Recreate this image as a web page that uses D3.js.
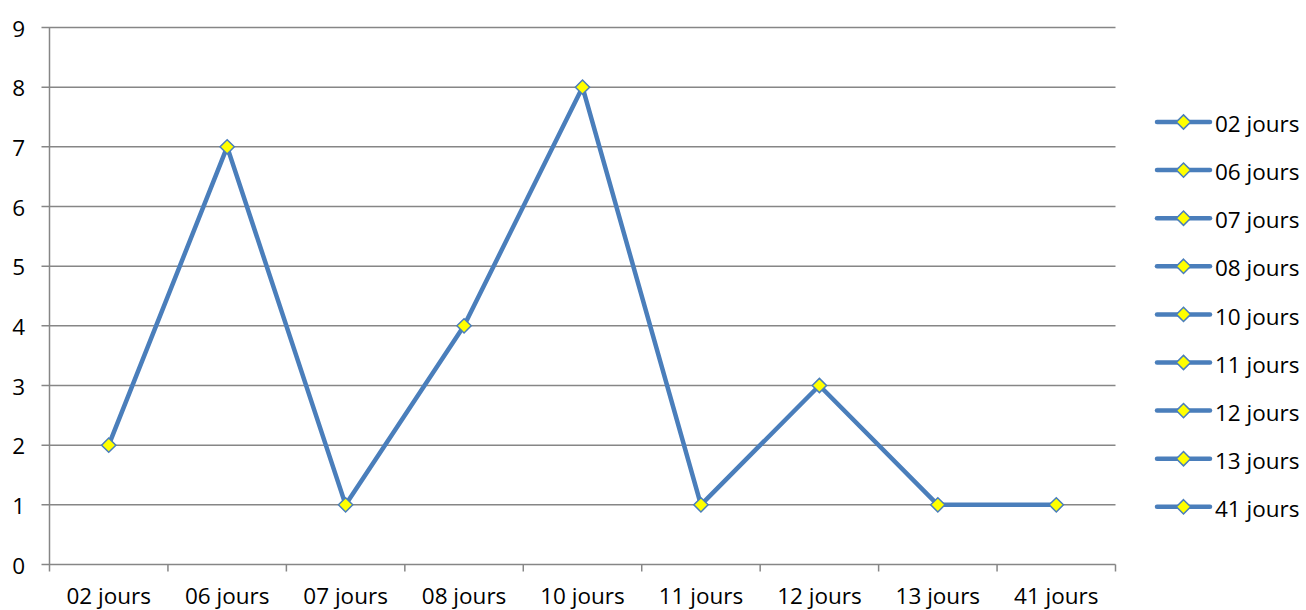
<!DOCTYPE html>
<html>
<head>
<meta charset="utf-8">
<script src="https://cdn.jsdelivr.net/npm/d3@7/dist/d3.min.js"></script>
<style>
  html, body { margin: 0; padding: 0; background: #fff; }
  svg { display: block; font-family: "Open Sans", "Noto Sans", sans-serif; }
</style>
</head>
<body>
<svg id="chart" width="1306" height="610"></svg>
<script>
// Number of stays by length (days)
const categories = ["02 jours", "06 jours", "07 jours", "08 jours", "10 jours", "11 jours", "12 jours", "13 jours", "41 jours"];
const values = [2, 7, 1, 4, 8, 1, 3, 1, 1];
const yTicks = [0, 1, 2, 3, 4, 5, 6, 7, 8, 9];

const lineColor = "#4A7EBB";
const gridColor = "#868686";
const fontSize = 22.5;

const svg = d3.select("#chart");
const plot = { left: 49.5, right: 1115.5, top: 27.5, bottom: 564.5 };

const x = d3.scaleBand().domain(categories).range([plot.left, plot.right]);
const y = d3.scaleLinear().domain([0, 9]).range([plot.bottom, plot.top]);

// Horizontal gridlines
svg.append("g")
  .selectAll("line")
  .data(yTicks)
  .join("line")
  .attr("x1", plot.left - 8)
  .attr("x2", plot.right)
  .attr("y1", d => y(d))
  .attr("y2", d => y(d))
  .attr("stroke", gridColor)
  .attr("stroke-width", 1.5);

// Vertical axis line
svg.append("line")
  .attr("x1", plot.left).attr("x2", plot.left)
  .attr("y1", plot.top).attr("y2", plot.bottom)
  .attr("stroke", gridColor).attr("stroke-width", 1.5);

// Y tick labels
svg.append("g")
  .selectAll("text")
  .data(yTicks)
  .join("text")
  .attr("x", 25)
  .attr("y", d => y(d) + 1)
  .attr("dy", "0.36em")
  .attr("text-anchor", "end")
  .attr("font-size", fontSize)
  .attr("fill", "#000")
  .text(d => d);

// X axis tick marks at band boundaries
const boundaries = categories.map(c => x(c)).concat([plot.right]);
svg.append("g")
  .selectAll("line")
  .data(boundaries)
  .join("line")
  .attr("x1", d => d).attr("x2", d => d)
  .attr("y1", plot.bottom).attr("y2", plot.bottom + 7)
  .attr("stroke", gridColor).attr("stroke-width", 1.5);

// X labels
svg.append("g")
  .selectAll("text")
  .data(categories)
  .join("text")
  .attr("x", d => x(d) + x.bandwidth() / 2)
  .attr("y", 603.5)
  .attr("text-anchor", "middle")
  .attr("font-size", fontSize)
  .attr("fill", "#000")
  .text(d => d);

// Series line
const cx = (d, i) => x(categories[i]) + x.bandwidth() / 2;
svg.append("path")
  .datum(values)
  .attr("fill", "none")
  .attr("stroke", lineColor)
  .attr("stroke-width", 4.5)
  .attr("stroke-linejoin", "round")
  .attr("d", d3.line().x(cx).y(d => y(d)));

// Diamond markers
const diamond = d3.symbol().type(d3.symbolDiamond2).size(130);
svg.append("g")
  .selectAll("path")
  .data(values)
  .join("path")
  .attr("transform", (d, i) => `translate(${cx(d, i)},${y(d)})`)
  .attr("d", diamond)
  .attr("fill", "#FFFF00")
  .attr("stroke", lineColor)
  .attr("stroke-width", 1.5);

// Legend
const legend = svg.append("g")
  .selectAll("g")
  .data(categories)
  .join("g")
  .attr("transform", (d, i) => `translate(1157,${122 + i * 48.1})`);

legend.append("line")
  .attr("x1", 0).attr("x2", 53)
  .attr("y1", 0).attr("y2", 0)
  .attr("stroke", lineColor)
  .attr("stroke-width", 4.5)
  .attr("stroke-linecap", "round");

legend.append("path")
  .attr("transform", "translate(26.5,0)")
  .attr("d", diamond)
  .attr("fill", "#FFFF00")
  .attr("stroke", lineColor)
  .attr("stroke-width", 1.5);

legend.append("text")
  .attr("x", 58)
  .attr("y", 2)
  .attr("dy", "0.36em")
  .attr("font-size", fontSize)
  .attr("fill", "#000")
  .text(d => d);
</script>
</body>
</html>
